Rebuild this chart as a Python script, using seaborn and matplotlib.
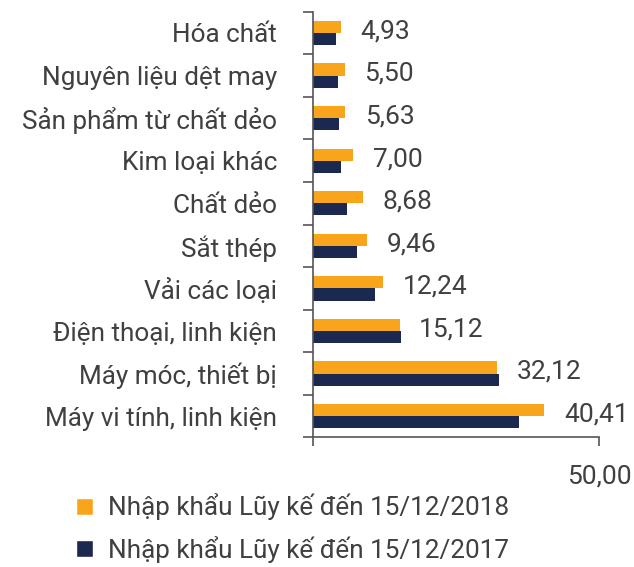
import pandas as pd
import matplotlib.pyplot as plt
import seaborn as sns
from matplotlib.patches import Patch
from matplotlib.ticker import FixedLocator

# Dữ liệu nhập khẩu (tỷ USD)
categories = ['Hóa chất', 'Nguyên liệu dệt may', 'Sản phẩm từ chất dẻo', 'Kim loại khác',
              'Chất dẻo', 'Sắt thép', 'Vải các loại', 'Điện thoại, linh kiện',
              'Máy móc, thiết bị', 'Máy vi tính, linh kiện']
values_2018 = [4.93, 5.50, 5.63, 7.00, 8.68, 9.46, 12.24, 15.12, 32.12, 40.41]
values_2017 = [4.1, 4.4, 4.5, 4.9, 5.9, 7.6, 10.8, 15.3, 32.5, 35.9]
series = ['Nhập khẩu Lũy kế đến 15/12/2018', 'Nhập khẩu Lũy kế đến 15/12/2017']
colors = ['#F9A51C', '#1B2850']

df = pd.DataFrame({
    'category': categories * 2,
    'value': values_2018 + values_2017,
    'series': [series[0]] * len(categories) + [series[1]] * len(categories),
})

sns.set_style('white')
plt.rcParams['font.family'] = ['Roboto', 'DejaVu Sans']
text_color = '#404040'
axis_color = '#555555'

fig = plt.figure(figsize=(6.34, 5.67), dpi=100)
ax = fig.add_axes([0.4937, 0.2284, 0.4516, 0.751])

sns.barplot(data=df, y='category', x='value', hue='series', orient='h',
            palette=colors, saturation=1, width=0.57, ax=ax, legend=False,
            linewidth=0)

ax.set_xlim(0, 50)
ax.set_ylim(9.5, -0.5)
ax.set_xlabel('')
ax.set_ylabel('')

# Nhãn giá trị cho năm 2018
for i, v in enumerate(values_2018):
    ax.annotate(f'{v:.2f}'.replace('.', ','), xy=(v, i - 0.04), xytext=(14, 0),
                textcoords='offset points', va='center', ha='left',
                fontsize=19, color=text_color)

# Trục
for side in ['top', 'right']:
    ax.spines[side].set_visible(False)
for side in ['left', 'bottom']:
    ax.spines[side].set_color(axis_color)
    ax.spines[side].set_linewidth(1.2)

ax.yaxis.set_major_locator(FixedLocator(range(len(categories))))
ax.set_yticklabels(categories, fontsize=18.8, color=text_color)
ax.yaxis.set_minor_locator(FixedLocator([i - 0.5 for i in range(len(categories) + 1)]))
ax.tick_params(axis='y', which='major', length=0, pad=26)
ax.tick_params(axis='y', which='minor', length=7.5, width=1.2, color=axis_color, direction='out', left=True)

ax.xaxis.set_major_locator(FixedLocator([50]))
ax.set_xticklabels(['50,00'], fontsize=19, color=text_color)
ax.xaxis.set_minor_locator(FixedLocator([0]))
ax.tick_params(axis='x', which='major', length=6.5, width=1.2, color=axis_color, pad=13, bottom=True)
ax.tick_params(axis='x', which='minor', length=6.5, width=1.2, color=axis_color, bottom=True)

handles = [Patch(facecolor=c, label=s) for c, s in zip(colors, series)]
fig.legend(handles=handles, loc='center left', bbox_to_anchor=(0.1199, 0.0688),
           frameon=False, fontsize=18.8, labelcolor=text_color, borderpad=0,
           borderaxespad=0, handlelength=0.65, handleheight=0.65,
           handletextpad=0.58, labelspacing=0.58)

fig.savefig('out.png', dpi=100)
